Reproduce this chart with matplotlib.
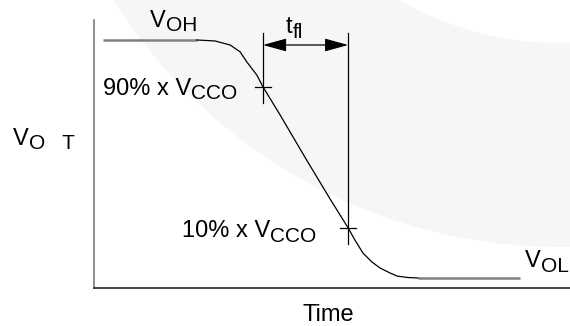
import matplotlib
matplotlib.use("Agg")
import matplotlib.pyplot as plt
from matplotlib.patches import Wedge

plt.rcParams['font.family'] = ['Liberation Sans', 'DejaVu Sans']

# falling edge of the output, time in arbitrary units, voltage normalised (VOL=0, VOH=1)
high_t = [0.19, 2.16]
high_v = [1.0, 1.0]
edge_t = [2.16, 2.54, 2.86, 3.07, 3.21, 3.42, 3.55, 3.91, 4.43, 4.96, 5.34,
          5.48, 5.65, 5.84, 6.01, 6.22, 6.37, 6.60, 6.81]
edge_v = [1.0, 0.996, 0.979, 0.950, 0.908, 0.853, 0.803, 0.685, 0.508, 0.332, 0.210,
          0.160, 0.105, 0.067, 0.042, 0.021, 0.008, 0.002, 0.0]
low_t = [6.81, 8.95]
low_v = [0.0, 0.0]

# 90% / 10% crossing points
cross_t = [3.55, 5.34]
cross_v = [0.803, 0.210]
marker_top = 1.029
marker_bottom = [0.735, 0.143]
arrow_v = 0.979

W, H = 570, 326
fig = plt.figure(figsize=(W / 100, H / 100), dpi=100)

# faint watermark ring behind everything
bg = fig.add_axes([0, 0, 1, 1], zorder=0)
bg.set_xlim(0, W)
bg.set_ylim(H, 0)
bg.axis('off')
bg.add_patch(Wedge((560, -280), 527, 0, 360, width=204, facecolor='#f6f6f6', edgecolor='none'))

ax = fig.add_axes([94 / W, 38 / H, 476 / W, 268 / H], zorder=1)
ax.patch.set_alpha(0)
ax.set_xlim(0, 10)
ax.set_ylim(-0.042, 1.084)
for side in ['top', 'right']:
    ax.spines[side].set_visible(False)
ax.spines['left'].set_color('#707070')
ax.spines['left'].set_linewidth(1.1)
ax.spines['bottom'].set_color('#111111')
ax.spines['bottom'].set_linewidth(1.1)
ax.set_xticks([])
ax.set_yticks([])

ax.plot(high_t, high_v, color='#808080', lw=1.8, solid_capstyle='butt')
ax.plot(low_t, low_v, color='#808080', lw=1.8, solid_capstyle='butt')
ax.plot(edge_t, edge_v, color='black', lw=0.9)

for t, v, vb in zip(cross_t, cross_v, marker_bottom):
    ax.plot([t, t], [marker_top, vb], color='black', lw=0.9)
    ax.plot([t - 0.17, t + 0.17], [v, v], color='black', lw=0.9)

ax.annotate('', xy=(cross_t[0], arrow_v), xytext=(cross_t[1], arrow_v),
            arrowprops=dict(arrowstyle='<|-|>,head_length=1.45,head_width=0.4',
                            mutation_scale=10, color='black', lw=0.9,
                            shrinkA=0, shrinkB=0))


def label(x, y, main, sub, size=17, subsize=15, drop=-2.5):
    t = ax.text(x, y, main, fontsize=size, ha='left', va='baseline', color='black')
    ax.annotate(sub, xy=(1, 0), xycoords=t, xytext=(0, drop), textcoords='offset points',
                fontsize=subsize, ha='left', va='bottom', color='black')


label(1.18, 1.055, 'V', 'OH')
label(4.03, 1.029, 't', 'fl')
label(0.19, 0.769, '90% x V', 'CCO')
label(-1.70, 0.559, 'V', 'O   T')
label(1.85, 0.172, '10% x V', 'CCO')
label(9.05, 0.046, 'V', 'OL')
ax.text(4.93, -0.18, 'Time', fontsize=17, ha='center', va='baseline', color='black')

fig.savefig('out.png', dpi=100)
